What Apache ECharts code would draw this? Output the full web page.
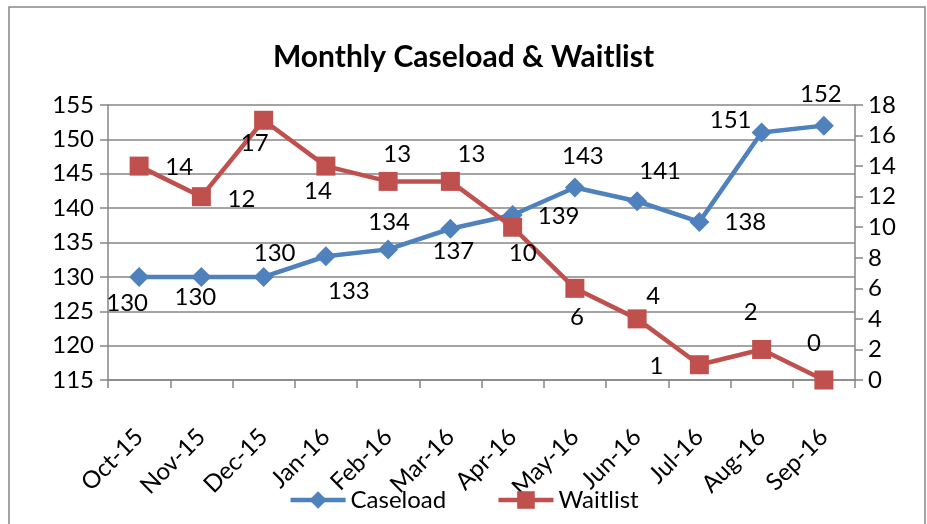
<!DOCTYPE html>
<html>
<head>
<meta charset="utf-8">
<script src="https://cdn.jsdelivr.net/npm/echarts@6/dist/echarts.min.js"></script>
<style>
  html, body { margin: 0; padding: 0; background: #fff; }
  #main { width: 927px; height: 524px; }
</style>
</head>
<body>
<div id="main"></div>
<script>
// data
var months = ['Oct-15', 'Nov-15', 'Dec-15', 'Jan-16', 'Feb-16', 'Mar-16',
  'Apr-16', 'May-16', 'Jun-16', 'Jul-16', 'Aug-16', 'Sep-16'];
var caseload = [130, 130, 130, 133, 134, 137, 139, 143, 141, 138, 151, 152];
var waitlist = [14, 12, 17, 14, 13, 13, 10, 6, 4, 1, 2, 0];
var leftTicks = { min: 115, max: 155, step: 5 };
var rightTicks = { min: 0, max: 18, step: 2 };

// hand placed labels, like the excel sheet had them
var caseloadLabelShift = [[-12, 26], [-6, 20], [11, -24], [23, 35], [1, -27], [3, 23],
  [46, 1], [8, -31], [23, -30], [46, 0], [-31, -12], [-3, -31]];
var waitlistLabelShift = [[40, 1], [40, 3], [-9, 23], [-8, 25], [9, -27], [21, -27],
  [10, 26], [2, 29], [16, -23], [-43, 2], [-11, -37], [-10, -37]];

var FONT = 'Lato';
var GREY = '#868686';

function withLabels(values, shifts) {
  return values.map(function (v, i) {
    return { value: v, label: { offset: shifts[i] } };
  });
}

var myChart = echarts.init(document.getElementById('main'));
var option = {
  backgroundColor: '#fff',
  animation: false,
  title: {
    text: 'Monthly Caseload & Waitlist',
    left: 'center',
    top: 37,
    textStyle: { fontFamily: FONT, fontWeight: 'bold', fontSize: 30, color: '#000' }
  },
  graphic: [{
    type: 'rect',
    shape: { x: 9, y: 7, width: 916, height: 530 },
    style: { fill: 'none', stroke: GREY, lineWidth: 1.5 },
    silent: true
  }],
  legend: {
    bottom: 7,
    left: 'center',
    itemWidth: 55,
    itemHeight: 22,
    itemGap: 50,
    lineStyle: { width: 4.5 },
    textStyle: { fontFamily: FONT, fontSize: 24, color: '#000' },
    data: ['Caseload', 'Waitlist']
  },
  grid: { left: 108, right: 72, top: 105, bottom: 144, containLabel: false },
  xAxis: {
    type: 'category',
    data: months,
    boundaryGap: true,
    axisLine: { lineStyle: { color: GREY, width: 1.5 } },
    axisTick: { show: true, length: 8, lineStyle: { color: GREY, width: 1.5 } },
    axisLabel: { rotate: 45, margin: 53, fontFamily: FONT, fontSize: 24, color: '#000' }
  },
  yAxis: [{
    type: 'value',
    min: leftTicks.min,
    max: leftTicks.max,
    interval: leftTicks.step,
    axisLine: { show: true, lineStyle: { color: GREY, width: 1.5 } },
    axisTick: { show: true, length: 8, lineStyle: { color: GREY, width: 1.5 } },
    axisLabel: { margin: 14, fontFamily: FONT, fontSize: 24, color: '#000' },
    splitLine: { lineStyle: { color: GREY, width: 1.5 } }
  }, {
    type: 'value',
    min: rightTicks.min,
    max: rightTicks.max,
    interval: rightTicks.step,
    position: 'right',
    axisLine: { show: true, lineStyle: { color: GREY, width: 1.5 } },
    axisTick: { show: true, length: 8, lineStyle: { color: GREY, width: 1.5 } },
    axisLabel: { margin: 13, fontFamily: FONT, fontSize: 24, color: '#000' },
    splitLine: { show: false }
  }],
  series: [{
    name: 'Caseload',
    type: 'line',
    yAxisIndex: 0,
    data: withLabels(caseload, caseloadLabelShift),
    symbol: 'diamond',
    symbolSize: 20,
    color: '#4F81BD',
    lineStyle: { width: 4.5, color: '#4F81BD' },
    itemStyle: { color: '#4F81BD' },
    label: { show: true, position: 'inside', fontFamily: FONT, fontSize: 24, color: '#000' }
  }, {
    name: 'Waitlist',
    type: 'line',
    yAxisIndex: 1,
    data: withLabels(waitlist, waitlistLabelShift),
    symbol: 'rect',
    symbolSize: 19,
    color: '#C0504D',
    lineStyle: { width: 4.5, color: '#C0504D' },
    itemStyle: { color: '#C0504D' },
    label: { show: true, position: 'inside', fontFamily: FONT, fontSize: 24, color: '#000' }
  }]
};
myChart.setOption(option);
</script>
</body>
</html>
